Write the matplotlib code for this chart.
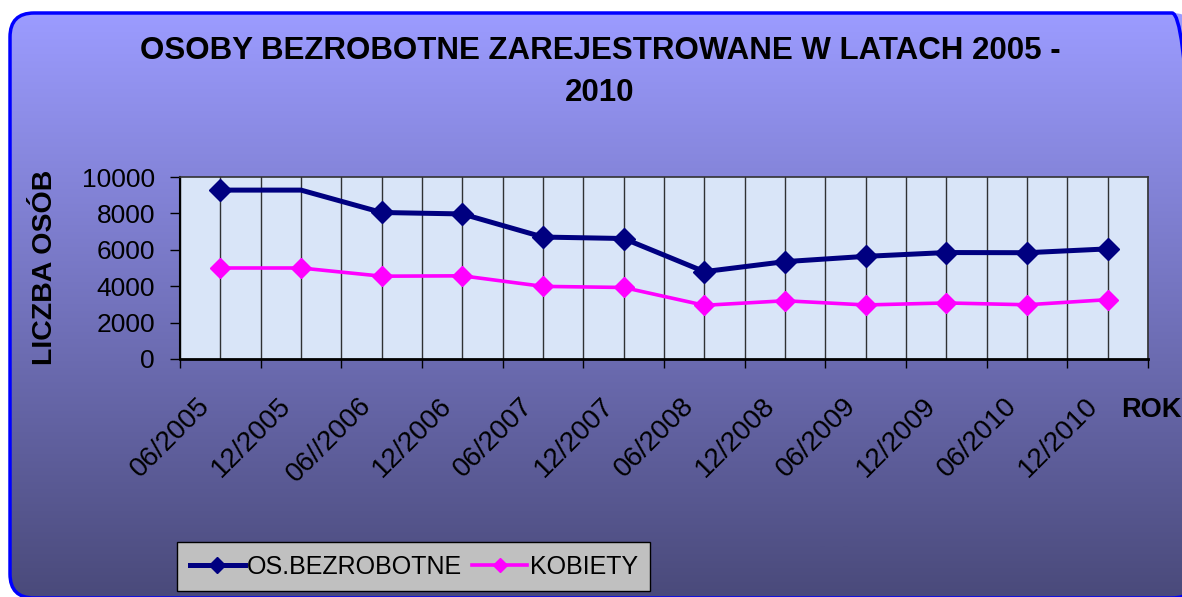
import numpy as np
import matplotlib.pyplot as plt
from matplotlib.patches import FancyBboxPatch
import matplotlib.transforms as mtransforms

plt.rcParams['font.family'] = ['Liberation Sans', 'DejaVu Sans']

# data
okresy = ['06/2005', '12/2005', '06//2006', '12/2006', '06/2007', '12/2007',
          '06/2008', '12/2008', '06/2009', '12/2009', '06/2010', '12/2010']
bezrobotni = [9280, 9280, 8050, 7970, 6700, 6620, 4800, 5350, 5640, 5850, 5840, 6050]
kobiety = [5000, 5000, 4550, 4570, 3990, 3930, 2950, 3200, 2970, 3080, 2980, 3260]

W, H = 1182, 597
fig = plt.figure(figsize=(W / 100, H / 100), dpi=100, facecolor='white')

# rounded gradient background
bg = fig.add_axes([0, 0, 1, 1], zorder=-5)
box = FancyBboxPatch((10, -1), 1186, 585, boxstyle='round,pad=0,rounding_size=24',
                     facecolor='none', edgecolor='#0000ff', lw=2.5, zorder=3)
bg.add_patch(box)
top = np.array([0.61, 0.61, 1.0])
bot = np.array([0.29, 0.29, 0.48])
t = np.linspace(0, 1, 256)[:, None]
grad = (top[None, :] * (1 - t) + bot[None, :] * t)[:, None, :]
im = bg.imshow(grad, extent=(10, 1196, -1, 584), aspect='auto', zorder=1,
               interpolation='bilinear')
im.set_clip_path(box)
bg.set_xlim(0, W)
bg.set_ylim(0, H)
bg.axis('off')

# plot area
ax = fig.add_axes([180 / W, 1 - 359 / H, 968 / W, 182 / H])
ax.set_facecolor('#d9e5f8')
x = np.arange(len(okresy))
ax.plot(x, bezrobotni, color='#000080', lw=3.6, marker='D', ms=11.5,
        markevery=[0, 2, 3, 4, 5, 6, 7, 8, 9, 10, 11], label='OS.BEZROBOTNE', zorder=4)
ax.plot(x, kobiety, color='#ff00ff', lw=2.6, marker='D', ms=10, label='KOBIETY', zorder=3)

ax.set_xlim(-0.5, len(okresy) - 0.5)
ax.set_ylim(0, 10000)
ax.set_yticks(np.arange(0, 10001, 2000))
ax.tick_params(axis='y', direction='out', length=7, width=1, pad=11, labelsize=19)
ax.set_xticks(np.arange(-0.5, len(okresy), 1))
ax.set_xticklabels([])
ax.set_xticks(x, okresy, minor=True)
ax.tick_params(axis='x', which='major', direction='out', length=6.5, width=1)
ax.tick_params(axis='x', which='minor', length=0, pad=31, labelsize=20)
off = mtransforms.ScaledTranslation(-14 / 100, 0, fig.dpi_scale_trans)
for lab in ax.get_xticklabels(minor=True):
    lab.set_rotation(45)
    lab.set_ha('right')
    lab.set_va('center')
    lab.set_rotation_mode('anchor')
    lab.set_transform(lab.get_transform() + off)
ax.grid(which='both', axis='x', color='#111111', lw=1, alpha=0.85)
ax.set_axisbelow(True)
for s in ['top', 'right']:
    ax.spines[s].set_color('#333333')
    ax.spines[s].set_linewidth(1.2)
ax.spines['bottom'].set_linewidth(2)
ax.spines['left'].set_linewidth(1.5)

# texts
fig.text(600 / W, 1 - 51 / H, 'OSOBY BEZROBOTNE ZAREJESTROWANE W LATACH 2005 -',
         ha='center', va='center', fontsize=22.5, fontweight='bold')
fig.text(600 / W, 1 - 93 / H, '2010', ha='center', va='center', fontsize=22.5,
         fontweight='bold')
fig.text(45 / W, 1 - 267 / H, 'LICZBA OSÓB', rotation=90, ha='center', va='center',
         fontsize=20.5, fontweight='bold')
fig.text(1121 / W, 1 - 397 / H, 'ROK', ha='left', va='top', fontsize=19.5,
         fontweight='bold')

leg = fig.legend(loc='lower left', bbox_to_anchor=(177 / W, 6 / H), ncol=2,
                 fontsize=18, frameon=True, fancybox=False, facecolor='#c0c0c0',
                 edgecolor='black', framealpha=1, borderpad=0.5, handlelength=2.2,
                 handletextpad=0.1, columnspacing=0.4, markerscale=0.7,
                 borderaxespad=0)
leg.get_frame().set_linewidth(1)

fig.savefig('out.png', dpi=100, facecolor=fig.get_facecolor())
